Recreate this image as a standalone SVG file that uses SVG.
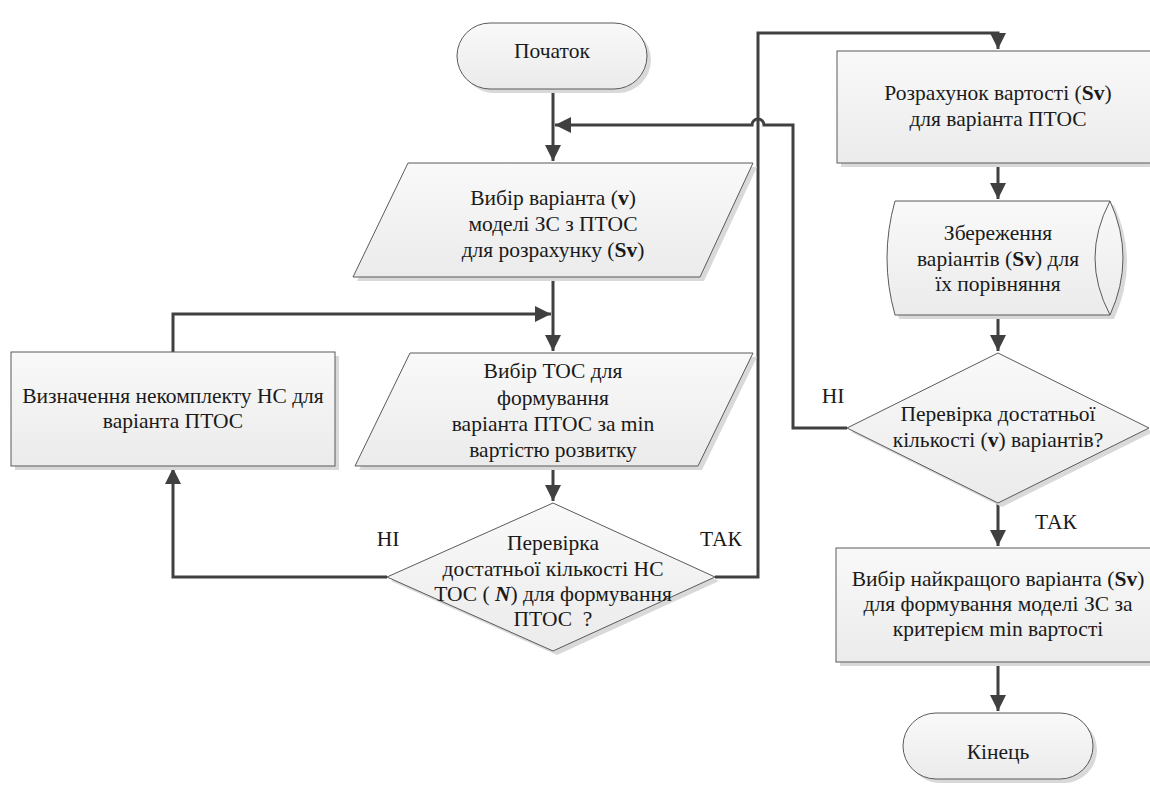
<svg xmlns="http://www.w3.org/2000/svg" width="1150" height="787" viewBox="0 0 1150 787">
<style>
.sh{fill:#d9d9d9;stroke:none}
.nd{fill:url(#g);stroke:#5a5a5a;stroke-width:1}
.t{font-family:'Liberation Serif','Tinos','Times New Roman','DejaVu Serif',serif;font-size:21.5px;fill:#1a1a1a;text-anchor:middle}
.c{fill:none;stroke:#404040;stroke-width:3}
.b{font-weight:bold}
</style>
<defs>
<linearGradient id="g" x1="0" y1="0" x2="0" y2="1">
<stop offset="0" stop-color="#f9f9f9"/>
<stop offset="1" stop-color="#ebebeb"/>
</linearGradient>
<marker id="a" markerUnits="userSpaceOnUse" markerWidth="17" markerHeight="16" refX="16" refY="8" orient="auto">
<path d="M0,0 L16,8 L0,16 z" fill="#404040"/>
</marker>
</defs>

<g id="connectors">
<path class="c" d="M553,89 V161" marker-end="url(#a)"/>
<path class="c" d="M847,428 H793 V125 H764 A6,6 0 0 0 752,125 H555" marker-end="url(#a)"/>
<path class="c" d="M553,277 V351" marker-end="url(#a)"/>
<path class="c" d="M173,352 V314 H551" marker-end="url(#a)"/>
<path class="c" d="M553,466 V501" marker-end="url(#a)"/>
<path class="c" d="M387,577 H173 V468" marker-end="url(#a)"/>
<path class="c" d="M715,577 H758 V33 H998 V49" marker-end="url(#a)"/>
<path class="c" d="M998,163 V199" marker-end="url(#a)"/>
<path class="c" d="M998,315 V351" marker-end="url(#a)"/>
<path class="c" d="M998,503 V546" marker-end="url(#a)"/>
<path class="c" d="M998,662 V711" marker-end="url(#a)"/>
</g>

<g id="start">
<rect class="sh" x="461" y="27" width="190" height="66" rx="33"/>
<rect class="nd" x="457" y="23" width="190" height="66" rx="33"/>
<text class="t" x="552" y="58">Початок</text>
</g>

<g id="choose-variant">
<path class="sh" d="M412,167 H757 L704,281 H357 Z"/>
<path class="nd" d="M408,163 H753 L700,277 H353 Z"/>
<text class="t" x="553" y="205">Вибір варіанта (<tspan class="b">v</tspan>)</text>
<text class="t" x="553" y="231">моделі ЗС з ПТОС</text>
<text class="t" x="553" y="257">для розрахунку (<tspan class="b">Sv</tspan>)</text>
</g>

<g id="choose-tos">
<path class="sh" d="M414,357 H757 L702,470 H359 Z"/>
<path class="nd" d="M410,353 H753 L698,466 H355 Z"/>
<text class="t" x="553" y="378">Вибір ТОС для</text>
<text class="t" x="553" y="405">формування</text>
<text class="t" x="553" y="431">варіанта ПТОС за min</text>
<text class="t" x="553" y="457">вартістю розвитку</text>
</g>

<g id="incomplete">
<rect class="sh" x="15" y="356" width="324" height="114"/>
<rect class="nd" x="11" y="352" width="324" height="114"/>
<text class="t" x="173" y="403">Визначення некомплекту НС для</text>
<text class="t" x="173" y="428">варіанта ПТОС</text>
</g>

<g id="check-ns">
<path class="sh" d="M557,507 L719,581 L557,655 L391,581 Z"/>
<path class="nd" d="M553,503 L715,577 L553,651 L387,577 Z"/>
<text class="t" x="553" y="550">Перевірка</text>
<text class="t" x="553" y="576">достатньої кількості НС</text>
<text class="t" x="553" y="601">ТОС ( <tspan class="b" font-style="italic">N</tspan>) для формування</text>
<text class="t" x="553" y="626" xml:space="preserve">ПТОС  ?</text>
<text class="t" x="388" y="546">НІ</text>
<text class="t" x="721" y="546">ТАК</text>
</g>

<g id="calc">
<rect class="sh" x="841" y="55" width="322" height="112"/>
<rect class="nd" x="837" y="51" width="322" height="112"/>
<text class="t" x="998" y="100">Розрахунок вартості (<tspan class="b">Sv</tspan>)</text>
<text class="t" x="998" y="126">для варіанта ПТОС</text>
</g>

<g id="store">
<path class="sh" d="M899,205 L1114,205 Q1140,262 1114,319 L899,319 Q883,262 899,205 Z"/>
<path class="nd" d="M895,201 L1110,201 Q1136,258 1110,315 L895,315 Q879,258 895,201 Z"/>
<path fill="none" stroke="#5a5a5a" stroke-width="1" d="M1110,201 Q1080,258 1110,315"/>
<text class="t" x="998" y="240">Збереження</text>
<text class="t" x="998" y="266">варіантів (<tspan class="b">Sv</tspan>) для</text>
<text class="t" x="998" y="291">їх порівняння</text>
</g>

<g id="check-v">
<path class="sh" d="M1002,357 L1153,432 L1002,507 L851,432 Z"/>
<path class="nd" d="M998,353 L1149,428 L998,503 L847,428 Z"/>
<text class="t" x="998" y="421">Перевірка достатньої</text>
<text class="t" x="998" y="447">кількості (<tspan class="b">v</tspan>) варіантів?</text>
<text class="t" x="833" y="403">НІ</text>
<text class="t" x="1056" y="529">ТАК</text>
</g>

<g id="best">
<rect class="sh" x="840" y="552" width="322" height="114"/>
<rect class="nd" x="836" y="548" width="322" height="114"/>
<text class="t" x="998" y="586">Вибір найкращого варіанта (<tspan class="b">Sv</tspan>)</text>
<text class="t" x="998" y="611">для формування моделі ЗС за</text>
<text class="t" x="998" y="636">критерієм min вартості</text>
</g>

<g id="end">
<rect class="sh" x="907" y="717" width="190" height="66" rx="33"/>
<rect class="nd" x="903" y="713" width="190" height="66" rx="33"/>
<text class="t" x="998" y="759">Кінець</text>
</g>
</svg>
